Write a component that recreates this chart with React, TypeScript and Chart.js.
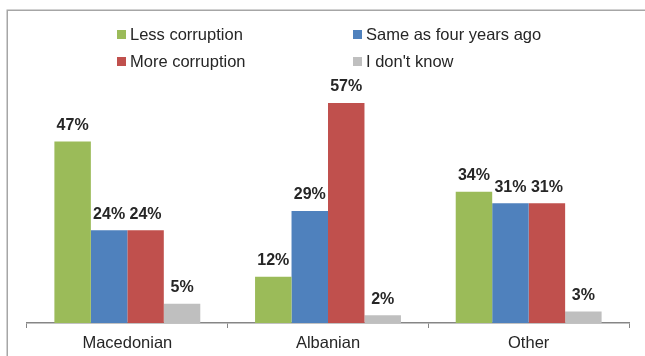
import React, { useEffect, useRef } from "react";
import { Chart, registerables } from "chart.js";

Chart.register(...registerables);

const categories = ["Macedonian", "Albanian", "Other"];
const seriesLabels = ["Less corruption", "Same as four years ago", "More corruption", "I don't know"];
const lessCorruption = [47, 12, 34];
const sameAsFourYearsAgo = [24, 29, 31];
const moreCorruption = [24, 57, 31];
const dontKnow = [5, 2, 3];
const seriesColors = ["#9BBB59", "#4F81BD", "#C0504D", "#BFBFBF"];
const yMin = 0;
const yMax = 60;

const FONT = "'Liberation Sans', Arial, sans-serif";
const TEXT = "#262626";

const framePlugin = {
  id: "frame",
  beforeDraw(chart: any) {
    const ctx = chart.ctx;
    ctx.save();
    ctx.fillStyle = "#ffffff";
    ctx.fillRect(0, 0, chart.width, chart.height);
    ctx.strokeStyle = "#a6a6a6";
    ctx.lineWidth = 1.5;
    ctx.strokeRect(7.25, 10.25, chart.width + 20, chart.height + 20);
    ctx.restore();
  },
};

const legendPlugin = {
  id: "gridLegend",
  afterDraw(chart: any) {
    const ctx = chart.ctx;
    const colX = [117, 353];
    const rowY = [34.5, 61.5];
    ctx.save();
    ctx.font = `16.5px ${FONT}`;
    ctx.textBaseline = "middle";
    ctx.textAlign = "left";
    chart.data.datasets.forEach((ds: any, i: number) => {
      const x = colX[i % 2];
      const y = rowY[Math.floor(i / 2)];
      ctx.fillStyle = ds.backgroundColor;
      ctx.fillRect(x, y - 4.5, 9, 9);
      ctx.fillStyle = TEXT;
      ctx.fillText(ds.label, x + 13, y + 0.5);
    });
    ctx.restore();
  },
};

const valueLabelPlugin = {
  id: "valueLabels",
  afterDatasetsDraw(chart: any) {
    const ctx = chart.ctx;
    ctx.save();
    ctx.font = `bold 16px ${FONT}`;
    ctx.fillStyle = TEXT;
    ctx.textAlign = "center";
    ctx.textBaseline = "middle";
    chart.data.datasets.forEach((ds: any, i: number) => {
      const meta = chart.getDatasetMeta(i);
      meta.data.forEach((bar: any, j: number) => {
        ctx.fillText(`${ds.data[j]}%`, bar.x, bar.y - 16);
      });
    });
    ctx.restore();
  },
};

export default function App() {
  const ref = useRef<HTMLCanvasElement | null>(null);

  useEffect(() => {
    if (!ref.current) return;
    const seriesData = [lessCorruption, sameAsFourYearsAgo, moreCorruption, dontKnow];
    const chart = new Chart(ref.current, {
      type: "bar",
      data: {
        labels: categories,
        datasets: seriesData.map((d, i) => ({
          label: seriesLabels[i],
          data: d,
          backgroundColor: seriesColors[i],
          borderWidth: 0,
          categoryPercentage: 0.727,
          barPercentage: 1,
        })),
      },
      options: {
        responsive: false,
        animation: false,
        layout: { padding: { top: 91.4, left: 27, right: 16, bottom: 0 } },
        plugins: {
          legend: { display: false },
          tooltip: { enabled: false },
          title: { display: false },
        },
        scales: {
          y: { display: false, min: yMin, max: yMax },
          x: {
            afterFit: (scale: any) => {
              scale.height = 33;
            },
            grid: {
              display: true,
              offset: true,
              drawOnChartArea: false,
              drawTicks: true,
              tickLength: 5,
              color: "#868686",
              lineWidth: 1,
            },
            border: { display: true, color: "#868686", width: 1.5 },
            ticks: {
              color: TEXT,
              padding: 6,
              font: { family: FONT, size: 16.5 },
            },
          },
        },
      },
      plugins: [framePlugin, legendPlugin, valueLabelPlugin],
    });
    return () => chart.destroy();
  }, []);

  return (
    <div style={{ position: "absolute", left: 0, top: 0, width: 645, height: 356 }}>
      <canvas ref={ref} width={645} height={356} style={{ display: "block" }} />
    </div>
  );
}
